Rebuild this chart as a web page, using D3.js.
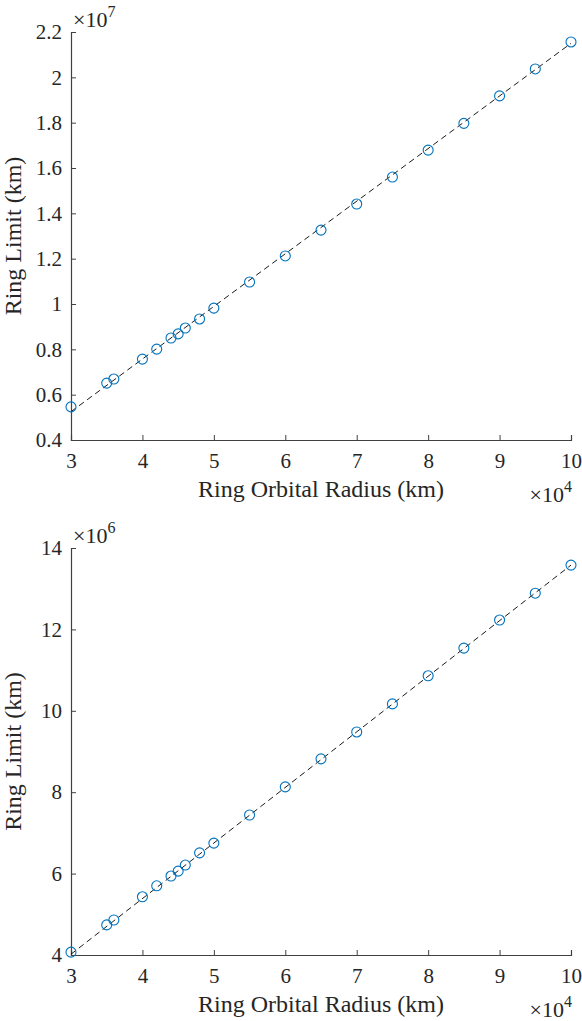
<!DOCTYPE html>
<html>
<head>
<meta charset="utf-8">
<script src="https://cdn.jsdelivr.net/npm/d3@7"></script>
<style>
  html, body { margin: 0; padding: 0; background: #fff; }
  svg { display: block; }
  text { font-family: "Liberation Serif", "Times New Roman", serif; fill: #262626; }
</style>
</head>
<body>
<svg id="chart" width="582" height="1021"></svg>
<script>
// Orbital radius of each ring (units of 1e4 km)
const radius = [3, 3.5, 3.6, 4, 4.2, 4.4, 4.5, 4.6, 4.8, 5, 5.5, 6, 6.5, 7, 7.5, 8, 8.5, 9, 9.5, 10];

// Upper panel: ring limit (units of 1e7 km)
const limitTop = [0.546, 0.651, 0.669, 0.757, 0.801, 0.850, 0.868, 0.894, 0.934, 0.982,
                  1.097, 1.212, 1.326, 1.441, 1.560, 1.679, 1.797, 1.918, 2.037, 2.156];
// Lower panel: ring limit (units of 1e6 km)
const limitBottom = [4.07, 4.74, 4.86, 5.43, 5.70, 5.94, 6.06, 6.21, 6.51, 6.75,
                     7.44, 8.13, 8.82, 9.48, 10.17, 10.86, 11.54, 12.23, 12.89, 13.58];

// Linear fit endpoints (at radius 3 and 10)
const fitX = [3, 10];
const fitTop = [0.525, 2.150];
const fitBottom = [4.02, 13.58];

// Tick values
const xTicks = [3, 4, 5, 6, 7, 8, 9, 10];
const yTicksTop = [0.4, 0.6, 0.8, 1, 1.2, 1.4, 1.6, 1.8, 2, 2.2];
const yTicksBottom = [4, 6, 8, 10, 12, 14];

const svg = d3.select("#chart");
const axisColor = "#262626";
const markerColor = "#0072BD";
const serif = '"Liberation Serif", "Times New Roman", serif';

function panel(cfg) {
  const x = d3.scaleLinear().domain([3, 10]).range([cfg.left, cfg.right]);
  const y = d3.scaleLinear().domain(cfg.yDomain).range([cfg.bottom, cfg.top]);
  const g = svg.append("g");

  // x axis
  const xa = g.append("g")
    .attr("transform", `translate(0,${cfg.bottom})`)
    .call(d3.axisBottom(x).tickValues(xTicks).tickSize(-5).tickPadding(13).tickFormat(d3.format("d")));
  // y axis
  const ya = g.append("g")
    .attr("transform", `translate(${cfg.left},0)`)
    .call(d3.axisLeft(y).tickValues(cfg.yTicks).tickSize(-5).tickPadding(9).tickFormat(d => String(+d.toFixed(1))));

  [xa, ya].forEach(a => {
    a.attr("font-family", serif);
    a.select(".domain").attr("stroke", "#404040").attr("stroke-width", 1.2);
    a.selectAll(".tick line").attr("stroke", "#404040").attr("stroke-width", 1);
    a.selectAll(".tick text").attr("font-size", 21).attr("fill", axisColor);
  });
  xa.selectAll(".tick text").attr("dy", "0.71em");

  // fitted dashed line
  const line = d3.line().x(d => x(d[0])).y(d => y(d[1]));
  g.append("path")
    .datum(fitX.map((v, i) => [v, cfg.fit[i]]))
    .attr("d", line)
    .attr("fill", "none")
    .attr("stroke", "#000")
    .attr("stroke-width", 0.9)
    .attr("stroke-dasharray", "6,4");

  // markers
  g.append("g").selectAll("circle")
    .data(radius.map((v, i) => [v, cfg.values[i]]))
    .join("circle")
    .attr("cx", d => x(d[0]))
    .attr("cy", d => y(d[1]))
    .attr("r", 5)
    .attr("fill", "none")
    .attr("stroke", markerColor)
    .attr("stroke-width", 1.1);

  // axis labels
  g.append("text")
    .attr("x", (cfg.left + cfg.right) / 2)
    .attr("y", cfg.bottom + 57)
    .attr("text-anchor", "middle")
    .attr("font-size", 24)
    .text("Ring Orbital Radius (km)");
  g.append("text")
    .attr("transform", `translate(${cfg.left - 50},${(cfg.top + cfg.bottom) / 2}) rotate(-90)`)
    .attr("text-anchor", "middle")
    .attr("font-size", 24)
    .text("Ring Limit (km)");

  // exponent multipliers
  const mx = g.append("text")
    .attr("x", cfg.right + 1)
    .attr("y", cfg.bottom + 62)
    .attr("text-anchor", "end")
    .attr("font-size", 22);
  mx.append("tspan").text("\u00D710");
  mx.append("tspan").attr("font-size", 16).attr("dy", -10).text("4");

  const my = g.append("text")
    .attr("x", cfg.left + 2)
    .attr("y", cfg.top - 5)
    .attr("font-size", 22);
  my.append("tspan").text("\u00D710");
  my.append("tspan").attr("font-size", 16).attr("dy", -10).text(cfg.yExp);
}

panel({ left: 71, right: 571, top: 32, bottom: 440, yDomain: [0.4, 2.2],
        yTicks: yTicksTop, values: limitTop, fit: fitTop, yExp: "7" });
panel({ left: 71, right: 571, top: 548, bottom: 955, yDomain: [4, 14],
        yTicks: yTicksBottom, values: limitBottom, fit: fitBottom, yExp: "6" });
</script>
</body>
</html>
